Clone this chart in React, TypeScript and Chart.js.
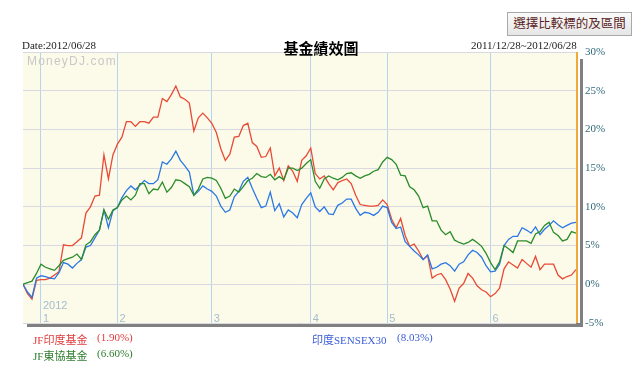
import React, { useEffect, useRef } from "react";
import { Chart, registerables } from "chart.js";

Chart.register(...registerables);

// trading-day index 0..123 (2011/12/28 ~ 2012/06/28)
const jfIndia = [0, -1.2, -1.9, 0.5, 0.6, 0.6, 0.8, 1.2, 1.6, 5.1,
  5.0, 5.0, 5.5, 6.0, 9.2, 10.0, 11.4, 11.5, 16.7, 13.6,
  16.7, 18.1, 19.0, 21.0, 21.0, 20.4, 21.0, 21.0, 20.8, 21.6,
  21.6, 24.0, 23.6, 24.5, 25.6, 24.2, 23.9, 23.4, 19.8, 21.5,
  22.1, 21.5, 20.8, 19.6, 17.5, 16.0, 16.8, 19.0, 19.1, 20.5,
  20.8, 18.3, 17.8, 16.4, 16.5, 17.6, 14.0, 15.0, 13.4, 15.3,
  14.6, 13.3, 16.0, 16.6, 17.6, 14.3, 13.6, 14.0, 13.0, 12.2,
  13.1, 13.4, 13.6, 13.0, 11.5, 10.3, 10.2, 10.1, 10.1, 10.2,
  10.9, 10.3, 8.4, 7.3, 8.5, 6.3, 4.9, 5.2, 4.3, 3.2,
  3.7, 0.8, 1.2, 1.4, 0.6, -0.6, -2.2, -0.5, 0.1, 1.4,
  0.8, -0.2, -0.7, -1.0, -1.6, -1.2, -0.5, 2.0, 2.9, 2.5,
  2.1, 3.2, 2.7, 2.2, 3.6, 1.9, 2.6, 2.6, 2.6, 1.2,
  0.7, 1.0, 1.2, 1.9];

const sensex30 = [0, -1.0, -1.7, 0.8, 1.1, 1.0, 0.8, 0.7, 1.5, 2.8,
  2.6, 2.1, 2.7, 3.2, 4.8, 5.0, 6.0, 7.0, 9.6, 7.3,
  9.5, 9.9, 11.2, 12.1, 12.7, 12.2, 12.8, 13.4, 13.0, 13.0,
  13.5, 15.8, 15.5, 16.2, 17.2, 16.0, 15.3, 14.5, 11.5, 12.0,
  12.7, 12.3, 12.0, 11.4, 10.1, 9.3, 9.6, 11.3, 12.0, 13.3,
  13.8, 12.4, 11.1, 9.9, 10.1, 11.9, 9.5, 10.4, 8.7, 9.6,
  9.2, 8.6, 10.3, 11.1, 11.8, 10.0, 9.4, 10.0, 9.1, 9.0,
  10.2, 10.5, 11.0, 11.0, 9.8, 8.9, 9.3, 9.2, 8.9, 9.3,
  10.1, 9.9, 8.0, 7.2, 7.4, 5.5, 4.9, 4.3, 3.8, 3.2,
  3.8, 2.0, 2.2, 2.6, 2.8, 2.4, 1.7, 2.6, 2.9, 3.8,
  4.4, 4.1, 3.5, 2.4, 1.6, 1.7, 2.6, 5.0, 5.8, 6.2,
  6.2, 7.3, 7.0, 6.6, 7.4, 6.4, 7.1, 7.6, 8.2, 7.7,
  7.3, 7.6, 7.9, 8.0];

const jfAsean = [0, 0.2, 0.4, 1.4, 2.6, 2.2, 2.0, 1.8, 2.4, 3.1,
  3.3, 3.5, 3.9, 3.2, 5.1, 5.5, 6.4, 7.0, 9.6, 8.4,
  9.6, 9.9, 10.9, 11.4, 10.9, 11.5, 13.0, 13.0, 11.7, 12.3,
  12.2, 13.2, 11.9, 12.5, 13.5, 13.4, 13.0, 12.6, 11.5, 12.3,
  13.6, 13.8, 13.7, 13.4, 12.4, 11.1, 11.4, 12.3, 11.9, 12.6,
  13.4, 13.7, 14.3, 13.9, 13.8, 14.2, 13.5, 13.9, 13.5, 15.0,
  15.0, 14.7, 15.0, 15.6, 16.1, 13.3, 12.4, 13.6, 14.0, 13.7,
  13.5, 13.8, 14.3, 14.4, 14.0, 13.7, 14.0, 14.2, 14.6, 14.8,
  15.8, 16.4, 16.1, 15.5, 14.1, 14.0, 12.6, 12.2, 11.4, 9.9,
  10.1, 8.2, 8.2, 7.0, 6.4, 6.8, 5.7, 5.4, 5.2, 5.4,
  5.8, 5.4, 4.9, 4.0, 2.8, 1.9, 2.9, 5.0, 4.6, 4.1,
  5.6, 5.6, 5.6, 5.3, 6.5, 6.8, 7.6, 8.0, 6.7, 6.3,
  5.6, 5.8, 6.8, 6.6];

const dayIndex = jfIndia.map((_, i) => i);
const monthTickIndex = [4, 21, 42, 64, 81, 104];
const monthLabels = ["1", "2", "3", "4", "5", "6"];
const yearLabel = "2012";
const yTicks = [-5, 0, 5, 10, 15, 20, 25, 30];

const seriesNames = ["JF印度基金", "印度SENSEX30", "JF東協基金"];
const seriesReturns = ["(1.90%)", "(8.03%)", "(6.60%)"];

const COL_RED = "#e84a36";
const COL_BLUE = "#2b78e4";
const COL_GREEN = "#2a8c2a";

const latin = "'Liberation Serif', 'Noto Sans CJK TC', serif";
const cjk = "'Liberation Serif', 'Noto Sans CJK TC', serif";

const decorPlugin = {
  id: "decor",
  beforeDraw(chart: any) {
    const { ctx, chartArea } = chart;
    const { left, top, right, bottom } = chartArea;
    ctx.save();
    ctx.fillStyle = "#808080";
    ctx.fillRect(left + 4, top + 7, right - left + 3, bottom - top - 3);
    ctx.fillStyle = "#ffffff";
    ctx.fillRect(right, top, 4, bottom - top);
    ctx.fillStyle = "#fcfbe9";
    ctx.fillRect(left, top, right - left, bottom - top);
    ctx.restore();
  },
  beforeDatasetsDraw(chart: any) {
    const { ctx, chartArea, scales } = chart;
    ctx.save();
    ctx.font = "12px 'Liberation Sans', sans-serif";
    (ctx as any).letterSpacing = "1.2px";
    ctx.fillStyle = "#c8c8c8";
    ctx.textBaseline = "alphabetic";
    ctx.fillText("MoneyDJ.com", chartArea.left + 4, chartArea.top + 13);
    (ctx as any).letterSpacing = "0px";
    ctx.font = "11px 'Liberation Sans', sans-serif";
    ctx.fillStyle = "#a6bccd";
    monthTickIndex.forEach((v, i) => {
      const x = scales.x.getPixelForValue(v);
      ctx.fillText(monthLabels[i], x + 2, chartArea.bottom - 1);
      if (i === 0) ctx.fillText(yearLabel, x + 2, chartArea.bottom - 14);
    });
    ctx.restore();
  },
  afterDraw(chart: any) {
    const { ctx, chartArea } = chart;
    ctx.save();
    ctx.fillStyle = "#f2a93b";
    ctx.fillRect(chartArea.right, chartArea.top, 2, chartArea.bottom - chartArea.top);
    ctx.restore();
  },
};

export default function App() {
  const ref = useRef<HTMLCanvasElement | null>(null);

  useEffect(() => {
    document.body.style.margin = "0";
    if (!ref.current) return;
    const chart = new Chart(ref.current, {
      type: "line",
      data: {
        labels: dayIndex,
        datasets: [
          { label: seriesNames[2], data: jfAsean, borderColor: COL_GREEN },
          { label: seriesNames[1], data: sensex30, borderColor: COL_BLUE },
          { label: seriesNames[0], data: jfIndia, borderColor: COL_RED },
        ].map((d) => ({ ...d, borderWidth: 1.3, pointRadius: 0, tension: 0, fill: false })),
      },
      options: {
        animation: false,
        responsive: false,
        maintainAspectRatio: false,
        layout: { padding: { left: 23, top: 52, right: 0, bottom: 46 } },
        plugins: { legend: { display: false }, tooltip: { enabled: false }, title: { display: false } },
        scales: {
          x: {
            type: "linear",
            min: 0,
            max: dayIndex.length - 1,
            afterBuildTicks: (s: any) => {
              s.ticks = monthTickIndex.map((v) => ({ value: v }));
            },
            afterFit: (s: any) => {
              s.height = 0;
            },
            ticks: { display: false },
            grid: { color: "#b7d3ee", drawTicks: false, lineWidth: 1 },
            border: { display: false },
          },
          y: {
            position: "right",
            min: -5,
            max: 30,
            afterBuildTicks: (s: any) => {
              s.ticks = yTicks.map((v) => ({ value: v }));
            },
            afterFit: (s: any) => {
              s.width = 64;
            },
            ticks: {
              callback: (v: any) => v + "%",
              color: "#2e6878",
              font: { family: "'Liberation Serif', serif", size: 11 },
              padding: 9,
            },
            grid: { color: "#d9d9e2", drawTicks: false },
            border: { display: false },
          },
        },
      },
      plugins: [decorPlugin],
    } as any);
    return () => chart.destroy();
  }, []);

  const abs = (o: React.CSSProperties): React.CSSProperties => ({
    position: "absolute",
    whiteSpace: "nowrap",
    lineHeight: "13px",
    ...o,
  });

  return (
    <div style={{ position: "relative", width: 640, height: 369, background: "#fff", overflow: "hidden" }}>
      <canvas ref={ref} width={640} height={369} style={{ position: "absolute", left: 0, top: 0, width: 640, height: 369 }} />
      <div
        style={abs({
          left: 507,
          top: 12,
          width: 123,
          height: 22,
          border: "1px solid #a9a9a9",
          background: "linear-gradient(#fafafa, #e6e6e6)",
          color: "#5a1e1e",
          font: `12.5px ${cjk}`,
          lineHeight: "22px",
          textAlign: "center",
          boxSizing: "content-box",
        })}
      >
        選擇比較標的及區間
      </div>
      <div style={abs({ left: 22, top: 39, font: `11px ${latin}`, color: "#222" })}>Date:2012/06/28</div>
      <div style={abs({ left: 283, top: 37, width: 76, textAlign: "center", font: `bold 15px 'Noto Sans CJK TC', sans-serif`, lineHeight: "16px", color: "#000" })}>
        基金績效圖
      </div>
      <div style={abs({ left: 471, top: 39, font: `11px ${latin}`, color: "#222" })}>2011/12/28~2012/06/28</div>

      <div style={abs({ left: 33, top: 331, font: `11px ${cjk}`, color: "#e03c3c" })}>{seriesNames[0]}</div>
      <div style={abs({ left: 97, top: 331, font: `11px ${latin}`, color: "#e03c3c" })}>{seriesReturns[0]}</div>
      <div style={abs({ left: 312, top: 331, font: `11px ${cjk}`, color: "#3b5cd6" })}>{seriesNames[1]}</div>
      <div style={abs({ left: 397, top: 331, font: `11px ${latin}`, color: "#3b5cd6" })}>{seriesReturns[1]}</div>
      <div style={abs({ left: 33, top: 347, font: `11px ${cjk}`, color: "#2e7d2e" })}>{seriesNames[2]}</div>
      <div style={abs({ left: 97, top: 347, font: `11px ${latin}`, color: "#2e7d2e" })}>{seriesReturns[2]}</div>
    </div>
  );
}
